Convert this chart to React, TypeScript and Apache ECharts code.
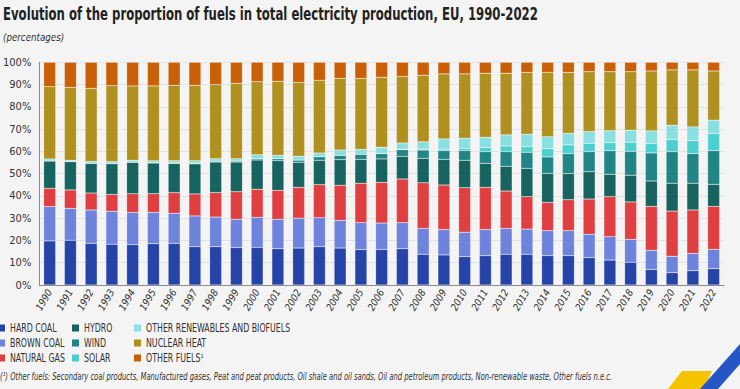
import React, { useEffect, useRef } from "react";
import * as echarts from "echarts";

const years = ["1990","1991","1992","1993","1994","1995","1996","1997","1998","1999","2000","2001","2002","2003","2004","2005","2006","2007","2008","2009","2010","2011","2012","2013","2014","2015","2016","2017","2018","2019","2020","2021","2022"];

const hardCoal = [19.8,20.1,18.7,18.3,18.1,18.6,18.7,17.2,17.2,16.8,16.9,16.3,16.6,17.2,16.6,15.9,16.0,16.3,13.8,13.5,12.7,13.2,13.8,13.8,13.2,13.2,12.3,11.2,10.2,7.0,5.5,6.4,7.3];
const brownCoal = [15.4,14.3,15.0,14.8,14.5,14.0,13.5,13.8,13.3,12.7,13.5,13.2,13.4,13.0,12.4,12.1,11.8,11.7,11.6,11.4,11.0,11.7,11.6,11.3,11.2,11.2,10.5,10.5,10.3,8.6,7.4,7.8,8.7];
const naturalGas = [8.2,8.3,7.6,7.6,8.4,8.4,9.3,9.9,11.0,12.4,12.6,13.0,13.9,14.9,15.8,17.7,18.3,19.6,20.5,20.0,20.0,19.0,16.8,14.6,12.7,13.9,15.8,18.0,16.8,19.7,20.3,19.5,19.3];
const hydro = [12.3,12.7,13.3,13.8,14.1,13.8,13.1,13.5,13.7,13.3,13.1,13.3,11.2,10.9,11.5,10.7,10.5,10.2,11.0,11.5,12.3,10.7,11.1,12.7,13.0,11.7,12.3,10.0,12.0,11.4,12.5,12.0,9.9];
const wind = [0,0,0,0,0,0.1,0.2,0.3,0.4,0.5,0.6,0.9,1.0,1.6,1.9,2.3,2.4,3.0,3.7,4.0,4.4,5.3,6.6,7.2,7.4,9.0,9.0,10.6,10.7,12.6,14.2,13.3,15.1];
const solar = [0,0,0,0,0,0,0,0,0,0,0,0,0,0,0,0,0.1,0.2,0.4,0.6,1.0,1.8,2.5,2.5,3.7,3.9,3.7,3.6,4.1,4.2,5.4,5.8,7.7];
const otherRenewables = [0.9,0.6,0.9,0.9,0.9,0.9,1.0,1.1,1.1,1.0,1.8,1.5,1.7,1.7,2.4,2.2,2.7,2.8,3.3,4.6,4.5,4.6,5.0,5.6,5.4,5.2,5.3,5.4,5.4,5.7,6.4,6.2,6.0];
const nuclear = [32.5,32.8,32.8,34.1,33.4,33.6,33.9,33.9,33.3,33.9,32.8,33.3,33.2,32.6,32.2,31.9,31.5,29.9,29.9,29.2,28.9,28.8,27.7,27.8,28.9,27.4,26.9,26.5,26.3,26.9,24.9,25.6,22.1];
const otherFuels = [10.9,11.2,11.7,10.5,10.6,10.6,10.3,10.3,10.0,9.4,8.7,8.5,9.0,8.1,7.2,7.2,6.7,6.3,5.8,5.2,5.2,4.9,4.9,4.5,4.5,4.5,4.2,4.2,4.2,3.9,3.4,3.4,3.9];

const seriesNames = ["HARD COAL","BROWN COAL","NATURAL GAS","HYDRO","WIND","SOLAR","OTHER RENEWABLES AND BIOFUELS","NUCLEAR HEAT","OTHER FUELS\u00B9"];
const seriesData = [hardCoal, brownCoal, naturalGas, hydro, wind, solar, otherRenewables, nuclear, otherFuels];
const colors = ["#2644A7","#6E83DC","#E03F42","#166360","#218586","#4CCFCF","#8ADFE0","#B09120","#C95F06"];

const FONT = '"DejaVu Sans Condensed", "DejaVu Sans", sans-serif';
const TITLE = "Evolution of the proportion of fuels in total electricity production, EU, 1990-2022";
const FOOTNOTE = "(\u00B9) Other fuels: Secondary coal products, Manufactured gases, Peat and peat products, Oil shale and oil sands, Oil and petroleum products, Non-renewable waste, Other fuels n.e.c.";

export default function App() {
  const ref = useRef<HTMLDivElement>(null);
  useEffect(() => {
    if (!ref.current) return;
    const chart = echarts.init(ref.current, undefined, { renderer: "svg" });

    const legendCols = [-2, 72, 134];
    const legendRows = [328, 343, 358];
    const legendGraphics: any[] = [];
    seriesNames.forEach((name, i) => {
      const cx = legendCols[Math.floor(i / 3)];
      const cy = legendRows[i % 3];
      legendGraphics.push({
        type: "rect",
        shape: { x: cx, y: cy - 3.5, width: 7, height: 7 },
        style: { fill: colors[i] },
      });
      legendGraphics.push({
        type: "text",
        x: cx + 12,
        y: cy,
        scaleX: 0.76,
        style: { text: name, font: `11.5px ${FONT}`, fill: "#333", verticalAlign: "middle" },
      });
    });

    chart.setOption({
      animation: false,
      backgroundColor: "#F4F4F4",
      textStyle: { fontFamily: FONT },
      grid: { left: 35.5, right: 16, top: 62.3, bottom: 104 },
      xAxis: {
        type: "category",
        data: years,
        axisLine: { lineStyle: { color: "#8a8a8a" } },
        axisTick: { inside: true, length: 7, lineStyle: { color: "#8a8a8a" } },
        axisLabel: { rotate: 60, interval: 0, fontSize: 10, fontStyle: "italic", color: "#333", fontFamily: FONT, margin: 5 },
      },
      yAxis: {
        type: "value",
        min: 0,
        max: 100,
        interval: 10,
        axisLine: { show: true, lineStyle: { color: "#8a8a8a" } },
        axisTick: { show: false },
        axisLabel: { formatter: "{value}%", fontSize: 11, color: "#333", fontFamily: FONT, margin: 8 },
        splitLine: { lineStyle: { color: "#e3e3e3" } },
      },
      series: seriesNames.map((name, i) => ({
        name,
        type: "bar",
        stack: "total",
        barWidth: 12,
        data: seriesData[i],
        itemStyle: { color: colors[i], borderColor: "rgba(255,255,255,0.35)", borderWidth: 0.5 },
      })),
      graphic: [
        {
          type: "text",
          x: 3,
          y: 13.5,
          scaleX: 0.722,
          style: { text: TITLE, font: `bold 18px ${FONT}`, fill: "#222", verticalAlign: "middle" },
        },
        {
          type: "text",
          x: 3,
          y: 37,
          scaleX: 0.88,
          style: { text: "(percentages)", font: `italic 11px ${FONT}`, fill: "#333", verticalAlign: "middle" },
        },
        ...legendGraphics,
        {
          type: "text",
          x: 0,
          y: 377,
          scaleX: 0.72,
          style: { text: FOOTNOTE, font: `italic 10.5px ${FONT}`, fill: "#333", verticalAlign: "middle" },
        },
        {
          type: "polygon",
          shape: { points: [[668, 389], [682, 371], [712, 371], [704, 389]] },
          style: { fill: "#F5C400" },
        },
        {
          type: "polygon",
          shape: { points: [[700, 389], [740, 344], [740, 364], [718, 389]] },
          style: { fill: "#2457C5" },
        },
      ],
    });
    return () => chart.dispose();
  }, []);
  return (
    <div
      ref={ref}
      style={{ position: "fixed", left: 0, top: 0, width: 740, height: 389, background: "#F4F4F4" }}
    />
  );
}
